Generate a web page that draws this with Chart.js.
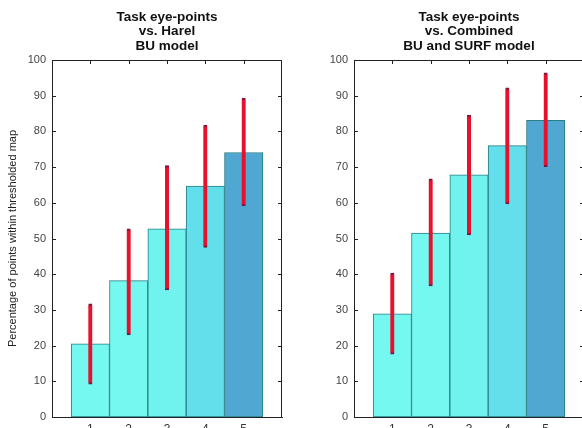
<!DOCTYPE html>
<html>
<head>
<meta charset="utf-8">
<script src="https://cdn.jsdelivr.net/npm/chart.js@4.4.1/dist/chart.umd.min.js"></script>
<style>
    html, body { margin: 0; padding: 0; background: #fff; width: 582px; height: 428px; overflow: hidden; position: relative; }
    canvas { position: absolute; top: 0; }
</style>
</head>
<body>
<canvas id="harelChart" width="290" height="440" style="left:0"></canvas>
<canvas id="combinedChart" width="300" height="440" style="left:290px"></canvas>
<script>
const categories = [1, 2, 3, 4, 5];
const yTicks = [0, 10, 20, 30, 40, 50, 60, 70, 80, 90, 100];

const harelMeans = [20.5, 38.2, 52.7, 64.7, 74.1];
const harelLow = [9.2, 23, 35.6, 47.5, 59.1];
const harelHigh = [31.7, 52.7, 70.4, 81.8, 89.3];

const combinedMeans = [28.9, 51.5, 67.8, 76, 83.1];
const combinedLow = [17.6, 36.7, 51, 59.7, 70.1];
const combinedHigh = [40.3, 66.7, 84.6, 92.2, 96.4];

const barColors = ["#74f8ef", "#74f8ef", "#70f2ee", "#62dfea", "#4fa7d2"];
const fontFamily = "'Liberation Sans', Arial, sans-serif";

// box + inward ticks like matlab axes
const matlabBox = {
    id: "matlabBox",
    afterDatasetsDraw: (chart) => {
        const {ctx, chartArea: {left, right, top, bottom}, scales: {x, y}} = chart;
        ctx.save();
        ctx.strokeStyle = "#222";
        ctx.lineWidth = 1;
        ctx.beginPath();
        ctx.moveTo(left, top + 0.5);
        ctx.lineTo(right, top + 0.5);
        ctx.moveTo(right - 0.5, top);
        ctx.lineTo(right - 0.5, bottom);
        yTicks.forEach(v => {
            const py = Math.round(y.getPixelForValue(v)) + 0.5;
            ctx.moveTo(left, py);
            ctx.lineTo(left + 4, py);
            ctx.moveTo(right, py);
            ctx.lineTo(right - 4, py);
        });
        categories.forEach(c => {
            const px = Math.round(x.getPixelForValue(c)) + 0.5;
            ctx.moveTo(px, top);
            ctx.lineTo(px, top + 4);
        });
        ctx.stroke();
        ctx.restore();
    }
};

const makeChart = (id, titleLines, means, low, high, opts) => {
    const ctx = document.getElementById(id).getContext("2d");
    return new Chart(ctx, {
        type: "bar",
        data: {
            datasets: [{
                data: categories.map((c, i) => ({x: c, y: [low[i], high[i]]})),
                backgroundColor: "#e8112d",
                borderColor: "#7d1440",
                borderWidth: {top: 2, bottom: 2, left: 0, right: 0},
                borderSkipped: false,
                barThickness: 4,
                grouped: false,
                order: 0,
            }, {
                data: categories.map((c, i) => ({x: c, y: means[i]})),
                backgroundColor: barColors,
                borderColor: "#2a7f86",
                borderWidth: 1,
                borderSkipped: false,
                barPercentage: 1,
                categoryPercentage: 1,
                grouped: false,
                order: 1,
            }]
        },
        plugins: [matlabBox],
        options: {
            responsive: false,
            animation: false,
            layout: {padding: {left: 0, right: opts.padRight, top: 0, bottom: 0}},
            plugins: {
                legend: {display: false},
                tooltip: {enabled: false},
                title: {
                    display: true,
                    fullSize: false,
                    text: titleLines,
                    color: "#111",
                    font: {family: fontFamily, size: 13.5, weight: "bold", lineHeight: "14.5px"},
                    padding: {top: 10, bottom: 6.5},
                },
            },
            scales: {
                x: {
                    type: "linear",
                    min: 0,
                    max: 6,
                    offset: false,
                    grid: {display: false, drawTicks: false},
                    border: {display: true, color: "#222"},
                    afterFit: (scale) => { scale.height = 23; },
                    ticks: {
                        stepSize: 1,
                        padding: 5,
                        color: "#333",
                        font: {family: fontFamily, size: 12},
                        callback: (v) => categories.includes(v) ? String(v) : "",
                    },
                },
                y: {
                    min: 0,
                    max: 100,
                    grid: {display: false, drawTicks: false},
                    border: {display: true, color: "#222"},
                    afterFit: (scale) => { scale.width = opts.yWidth; },
                    ticks: {
                        stepSize: 10,
                        padding: 6,
                        color: "#444",
                        font: {family: fontFamily, size: 11},
                    },
                    title: {
                        display: opts.yTitle !== "",
                        text: opts.yTitle,
                        color: "#222",
                        font: {family: fontFamily, size: 11},
                        padding: {top: 6, bottom: 0},
                    },
                },
            },
        },
    });
};

makeChart("harelChart", ["Task eye-points", "vs. Harel", "BU model"],
    harelMeans, harelLow, harelHigh,
    {padRight: 8, yWidth: 52, yTitle: "Percentage of points within thresholded map"});

makeChart("combinedChart", ["Task eye-points", "vs. Combined", "BU and SURF model"],
    combinedMeans, combinedLow, combinedHigh,
    {padRight: 6, yWidth: 64, yTitle: ""});
</script>
</body>
</html>
